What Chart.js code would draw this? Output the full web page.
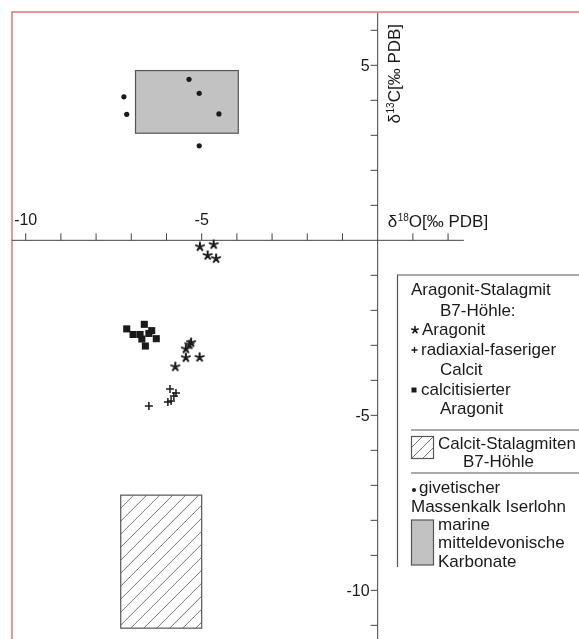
<!DOCTYPE html>
<html>
<head>
<meta charset="utf-8">
<script src="https://cdn.jsdelivr.net/npm/chart.js@4/dist/chart.umd.min.js"></script>
<style>
html, body { margin: 0; padding: 0; background: #fff; }
#wrap { width: 579px; height: 639px; }
</style>
</head>
<body>
<div id="wrap"><canvas id="isoChart" width="579" height="639"></canvas></div>
<script>
// Messwerte [δ18O, δ13C] in ‰ PDB
const aragonit = [
    [-5.05, -0.17], [-4.66, -0.11], [-4.83, -0.42], [-4.59, -0.51],
    [-5.30, -2.91], [-5.35, -2.97], [-5.45, -3.09], [-5.45, -3.34],
    [-5.06, -3.33], [-5.75, -3.60]
];
const radiaxCalcit = [
    [-5.90, -4.25], [-5.73, -4.36], [-5.79, -4.45], [-5.96, -4.62],
    [-5.87, -4.59], [-6.50, -4.73]
];
const calcitAragonit = [
    [-7.13, -2.53], [-6.63, -2.40], [-6.95, -2.69], [-6.75, -2.69],
    [-6.50, -2.66], [-6.42, -2.58], [-6.70, -2.82], [-6.29, -2.81],
    [-6.60, -3.02]
];
const massenkalk = [
    [-5.36, 4.60], [-5.07, 4.20], [-7.21, 4.10], [-7.13, 3.60],
    [-4.51, 3.61], [-5.07, 2.70]
];
// Felder: [xmin, xmax], [ymin, ymax]
const marineX = [-6.88, -3.96];
const marineY = [3.06, 4.85];
const stalagX = [-7.30, -5.00];
const stalagY = [-11.08, -7.28];

// Achsen
const xTicks = [-10, -9, -8, -7, -6, -5, -4, -3, -2, -1, 1, 2];
const xTickLabels = [-10, -5];
const yTicks = [6, 5, 4, 3, 2, 1, -1, -2, -3, -4, -5, -6, -7, -8, -9, -10, -11];
const yTickLabels = [5, -5, -10];

const INK = '#1a1a1a';
const AXIS = '#444';
const FONT = '"Liberation Sans", Arial, sans-serif';

function drawAst(g, x, y, r, lw) {
    g.save();
    g.strokeStyle = INK;
    g.lineWidth = lw;
    g.lineCap = 'round';
    g.beginPath();
    for (let i = 0; i < 5; i++) {
        const a = -Math.PI / 2 + i * 2 * Math.PI / 5;
        g.moveTo(x, y);
        g.lineTo(x + r * Math.cos(a), y + r * Math.sin(a));
    }
    g.stroke();
    g.restore();
}

// Sternchen als eigenes pointStyle
const astCanvas = (() => {
    const c = document.createElement('canvas');
    c.width = c.height = 12;
    drawAst(c.getContext('2d'), 6, 6.4, 4.2, 2);
    return c;
})();

function hatchRect(ctx, x0, y0, x1, y1, step) {
    ctx.save();
    ctx.beginPath();
    ctx.rect(x0, y0, x1 - x0, y1 - y0);
    ctx.clip();
    ctx.strokeStyle = '#777';
    ctx.lineWidth = 1;
    ctx.beginPath();
    const h = y1 - y0;
    for (let s = x0 - h; s < x1 + h; s += step) {
        ctx.moveTo(s, y1);
        ctx.lineTo(s + h, y0);
    }
    ctx.stroke();
    ctx.restore();
    ctx.strokeStyle = '#555';
    ctx.lineWidth = 1.2;
    ctx.strokeRect(x0, y0, x1 - x0, y1 - y0);
}

const paperPlugin = {
    id: 'paper',
    beforeDraw(chart) {
        const ctx = chart.ctx;
        ctx.save();
        ctx.fillStyle = '#fff';
        ctx.fillRect(0, 0, chart.width, chart.height);
        ctx.restore();
    },
    beforeDatasetsDraw(chart) {
        const { ctx, scales: { x, y } } = chart;
        const X = v => x.getPixelForValue(v);
        const Y = v => y.getPixelForValue(v);
        ctx.save();

        // rote Rahmenlinie
        ctx.strokeStyle = '#e07575';
        ctx.lineWidth = 1.5;
        ctx.beginPath();
        ctx.moveTo(12, chart.height);
        ctx.lineTo(12, 12);
        ctx.lineTo(chart.width, 12);
        ctx.stroke();

        // marine Karbonate
        ctx.fillStyle = '#c2c2c2';
        ctx.fillRect(X(marineX[0]), Y(marineY[1]), X(marineX[1]) - X(marineX[0]), Y(marineY[0]) - Y(marineY[1]));
        ctx.strokeStyle = '#555';
        ctx.lineWidth = 1.2;
        ctx.strokeRect(X(marineX[0]), Y(marineY[1]), X(marineX[1]) - X(marineX[0]), Y(marineY[0]) - Y(marineY[1]));

        // Calcit-Stalagmiten
        hatchRect(ctx, X(stalagX[0]), Y(stalagY[1]), X(stalagX[1]), Y(stalagY[0]), 13);

        // Achsen
        const x0 = X(0), y0 = Y(0);
        ctx.strokeStyle = AXIS;
        ctx.lineWidth = 1;
        ctx.beginPath();
        ctx.moveTo(12, y0); ctx.lineTo(X(2.45), y0);
        ctx.moveTo(x0, Y(6.5)); ctx.lineTo(x0, chart.height);
        xTicks.forEach(t => { ctx.moveTo(X(t), y0); ctx.lineTo(X(t), y0 - 7); });
        yTicks.forEach(t => { ctx.moveTo(x0, Y(t)); ctx.lineTo(x0 - 7, Y(t)); });
        ctx.stroke();

        ctx.fillStyle = INK;
        ctx.font = '16px ' + FONT;
        ctx.textAlign = 'center';
        ctx.textBaseline = 'alphabetic';
        xTickLabels.forEach(t => ctx.fillText(String(t), X(t), y0 - 15));
        ctx.textAlign = 'right';
        ctx.textBaseline = 'middle';
        yTickLabels.forEach(t => ctx.fillText(String(t), x0 - 8, Y(t) + 1));

        // Achsentitel
        const title = (px, py, iso, rest) => {
            ctx.textAlign = 'left';
            ctx.textBaseline = 'alphabetic';
            ctx.font = '17px ' + FONT;
            ctx.fillText('δ', px, py);
            let w = ctx.measureText('δ').width;
            ctx.font = '10px ' + FONT;
            ctx.fillText(iso, px + w + 0.5, py - 6);
            w += ctx.measureText(iso).width + 0.5;
            ctx.font = '17px ' + FONT;
            ctx.fillText(rest, px + w, py);
        };
        title(x0 + 10, y0 - 13, '18', 'O[‰ PDB]');
        ctx.save();
        ctx.translate(x0 + 22, Y(3.34));
        ctx.rotate(-Math.PI / 2);
        title(0, 0, '13', 'C[‰ PDB]');
        ctx.restore();

        ctx.restore();
    },
    afterDatasetsDraw(chart) {
        const ctx = chart.ctx;
        const W = chart.width;
        ctx.save();
        ctx.strokeStyle = '#555';
        ctx.lineWidth = 1.2;
        ctx.beginPath();
        ctx.moveTo(397.5, 567); ctx.lineTo(397.5, 275); ctx.lineTo(W, 275);
        ctx.moveTo(411, 430); ctx.lineTo(W, 430);
        ctx.moveTo(411, 473); ctx.lineTo(W, 473);
        ctx.stroke();

        ctx.fillStyle = INK;
        ctx.font = '17px ' + FONT;
        ctx.textAlign = 'left';
        ctx.textBaseline = 'middle';
        const t = (s, px, py) => ctx.fillText(s, px, py);
        t('Aragonit-Stalagmit', 411, 290);
        t('B7-Höhle:', 440, 311);
        drawAst(ctx, 415, 330, 3.4, 1.6);
        t('Aragonit', 422, 330);
        ctx.strokeStyle = INK; ctx.lineWidth = 1.3;
        ctx.beginPath();
        ctx.moveTo(411.5, 350); ctx.lineTo(417.5, 350);
        ctx.moveTo(414.5, 347); ctx.lineTo(414.5, 353);
        ctx.stroke();
        t('radiaxial-faseriger', 421, 350);
        t('Calcit', 440, 370);
        ctx.fillRect(411.5, 387.5, 5, 5);
        t('calcitisierter', 421, 390);
        t('Aragonit', 440, 409);

        hatchRect(ctx, 411.5, 436.5, 433.5, 458.5, 11);
        ctx.fillStyle = INK;
        t('Calcit-Stalagmiten', 438, 444);
        t('B7-Höhle', 463, 462);

        ctx.beginPath();
        ctx.arc(414, 490, 2, 0, Math.PI * 2);
        ctx.fill();
        t('givetischer', 419, 488);
        t('Massenkalk Iserlohn', 411, 507);
        ctx.fillStyle = '#c2c2c2';
        ctx.fillRect(411.5, 520, 22, 45);
        ctx.strokeStyle = '#555';
        ctx.strokeRect(411.5, 520, 22, 45);
        ctx.fillStyle = INK;
        t('marine', 438, 525);
        t('mitteldevonische', 438, 543);
        t('Karbonate', 438, 562);
        ctx.restore();
    }
};

const toPts = arr => arr.map(([x, y]) => ({ x, y }));

new Chart(document.getElementById('isoChart'), {
    type: 'scatter',
    data: {
        datasets: [
            {
                label: 'givetischer Massenkalk Iserlohn',
                data: toPts(massenkalk),
                pointStyle: 'circle',
                pointRadius: 2.6,
                backgroundColor: INK,
                borderWidth: 0
            },
            {
                label: 'Aragonit',
                data: toPts(aragonit),
                pointStyle: astCanvas
            },
            {
                label: 'radiaxial-faseriger Calcit',
                data: toPts(radiaxCalcit),
                pointStyle: 'cross',
                pointRadius: 4,
                borderColor: INK,
                borderWidth: 1.5
            },
            {
                label: 'calcitisierter Aragonit',
                data: toPts(calcitAragonit),
                pointStyle: 'rect',
                pointRadius: 5,
                backgroundColor: INK,
                borderWidth: 0
            }
        ]
    },
    options: {
        responsive: false,
        animation: false,
        layout: { padding: 0, autoPadding: false },
        plugins: {
            legend: { display: false },
            tooltip: { enabled: false }
        },
        scales: {
            x: { type: 'linear', min: -10.73, max: 5.72, display: false },
            y: { type: 'linear', min: -11.39, max: 6.866, display: false }
        }
    },
    plugins: [paperPlugin]
});
</script>
</body>
</html>
